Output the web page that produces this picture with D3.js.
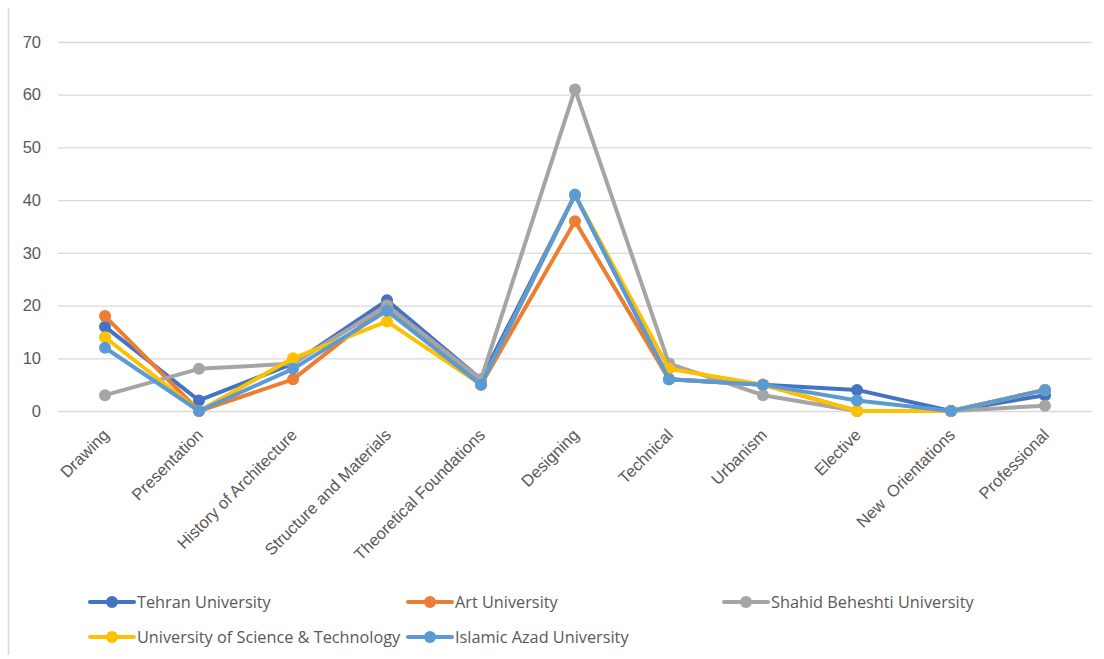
<!DOCTYPE html>
<html>
<head>
<meta charset="utf-8">
<script src="https://cdn.jsdelivr.net/npm/d3@7"></script>
<style>
  html, body { margin: 0; padding: 0; background: #fff; }
  svg { display: block; font-family: "Open Sans", "Noto Sans", sans-serif; }
  .xlabels text { white-space: pre; }
</style>
</head>
<body>
<svg id="chart" width="1104" height="659"></svg>
<script>
// Course groups on the x axis
const categories = ["Drawing", "Presentation", "History of Architecture", "Structure and Materials",
  "Theoretical Foundations", "Designing", "Technical", "Urbanism", "Elective",
  "New  Orientations", "Professional"];

// Values per university, in category order
const tehran   = [16, 2, 9, 21, 6, 41, 6, 5, 4, 0, 3];
const art      = [18, 0, 6, 20, 5, 36, 6, 5, 0, 0, 4];
const beheshti = [3, 8, 9, 20, 6, 61, 9, 3, 0, 0, 1];
const ust      = [14, 0, 10, 17, 5, 41, 8, 5, 0, 0, 4];
const azad     = [12, 0, 8, 19, 5, 41, 6, 5, 2, 0, 4];

const yTicks = [0, 10, 20, 30, 40, 50, 60, 70];

const series = [
  { name: "Tehran University", values: tehran, color: "#4472C4" },
  { name: "Art University", values: art, color: "#ED7D31" },
  { name: "Shahid Beheshti University", values: beheshti, color: "#A5A5A5" },
  { name: "University of Science & Technology", values: ust, color: "#FFC000" },
  { name: "Islamic Azad University", values: azad, color: "#5B9BD5" }
];

const svg = d3.select("#chart");
const plot = { left: 58, right: 1092, top: 42, bottom: 411 };

const x = d3.scaleBand().domain(categories).range([plot.left, plot.right]);
const y = d3.scaleLinear().domain([0, 70]).range([plot.bottom, plot.top]);

// frame line on the left
svg.append("line").attr("x1", 8.5).attr("x2", 8.5).attr("y1", 8).attr("y2", 655)
  .attr("stroke", "#d9d9d9").attr("stroke-width", 1.5);

// horizontal gridlines and value labels
const yAxis = svg.append("g").attr("transform", `translate(${plot.left},0)`)
  .call(d3.axisLeft(y).tickValues(yTicks).tickSize(-(plot.right - plot.left)).tickPadding(17));
yAxis.select(".domain").remove();
yAxis.selectAll(".tick line").attr("stroke", "#d9d9d9").attr("stroke-width", 1.3);
yAxis.selectAll(".tick text").attr("fill", "#595959").style("font-size", "16.5px");

// category labels, rotated
const xAxis = svg.append("g").attr("class", "xlabels").attr("transform", `translate(0,${plot.bottom})`)
  .call(d3.axisBottom(x).tickSize(0).tickPadding(0));
xAxis.select(".domain").remove();
xAxis.selectAll(".tick text")
  .attr("fill", "#595959").style("font-size", "16.5px")
  .attr("text-anchor", "end")
  .attr("dy", 0).attr("y", 0)
  .attr("transform", "translate(5,25) rotate(-45)");

// lines and markers
const cx = (d, i) => x(categories[i]) + x.bandwidth() / 2;
const line = d3.line().x(cx).y(d => y(d));

series.forEach(s => {
  const g = svg.append("g");
  g.append("path").datum(s.values).attr("d", line)
    .attr("fill", "none").attr("stroke", s.color).attr("stroke-width", 4)
    .attr("stroke-linejoin", "round").attr("stroke-linecap", "round");
  g.selectAll("circle").data(s.values).join("circle")
    .attr("cx", cx)
    .attr("cy", d => y(d))
    .attr("r", 6).attr("fill", s.color);
});

// legend
const legendPos = [[90, 602], [408, 602], [724, 602], [90, 637], [408, 637]];
series.forEach((s, i) => {
  const [lx, ly] = legendPos[i];
  const g = svg.append("g").attr("transform", `translate(${lx},${ly})`);
  g.append("line").attr("x1", 0).attr("x2", 44).attr("y1", 0).attr("y2", 0)
    .attr("stroke", s.color).attr("stroke-width", 4).attr("stroke-linecap", "round");
  g.append("circle").attr("cx", 22).attr("cy", 0).attr("r", 6).attr("fill", s.color);
  g.append("text").attr("x", 47).attr("y", 0).attr("dy", "0.35em")
    .attr("fill", "#595959").style("font-size", "16.3px").text(s.name);
});
</script>
</body>
</html>
